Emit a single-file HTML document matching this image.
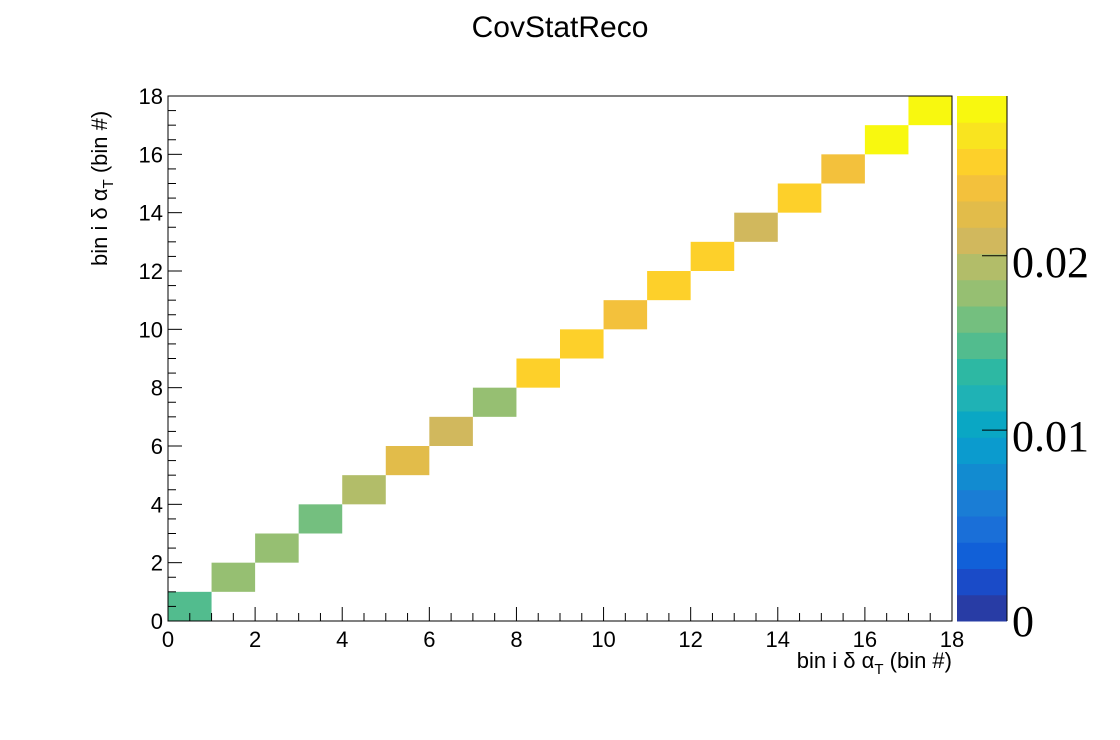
<!DOCTYPE html>
<html><head><meta charset="utf-8"><style>
body{margin:0;background:#fff;}
svg{display:block;font-family:"Liberation Sans",sans-serif;}
</style></head><body>
<svg id="c" width="1120" height="740" xmlns="http://www.w3.org/2000/svg">
<rect width="1120" height="740" fill="#fff"/>
<text x="560" y="37" font-size="30" text-anchor="middle">CovStatReco</text>
<g id="cells"></g>
<rect x="168" y="96" width="784" height="525" fill="none" stroke="#000" stroke-width="1"/>
<g id="axes"></g>
<text x="952" y="668" font-size="22" text-anchor="end">bin i δ α<tspan font-size="15" dy="6">T</tspan><tspan dy="-6"> (bin #)</tspan></text>
<text transform="translate(107,266) rotate(-90)" font-size="22" text-anchor="start">bin i δ α<tspan font-size="15" dy="6">T</tspan><tspan dy="-6"> (bin #)</tspan></text>
<g id="cbar"></g>
</svg>
<script>
const binIndex=[0,1,2,3,4,5,6,7,8,9,10,11,12,13,14,15,16,17];
const diagValues=[0.01486,0.01787,0.01787,0.01637,0.01938,0.02239,0.02088,0.01787,0.0254,0.0254,0.02389,0.0254,0.0254,0.02088,0.0254,0.02389,0.02841,0.02841];
const xTicks=[0,2,4,6,8,10,12,14,16,18];
const yTicks=[0,2,4,6,8,10,12,14,16,18];
const zTicks=[0,0.01,0.02];
const zTickLabels=["0","0.01","0.02"];
const palette=["#283ca5","#1a4bc8","#1160d8","#1a6fd8","#1a7dd5","#128bd0","#0b9bce","#0aa7c4","#1fb2b5","#2db8a3","#52bc8e","#74bf7f","#96bf72","#b2bd69","#d1b85d","#e2bc4a","#f3c13c","#fdd02a","#f9e41f","#f8f80f"];
const zMin=-0.00094, zMax=0.02916;
const NS="http://www.w3.org/2000/svg";
const X0=168,X1=952,Y0=621,Y1=96;
const sx=v=>X0+(X1-X0)*v/18, sy=v=>Y0-(Y0-Y1)*v/18;
const CB0=957,CB1=1007;
const sz=v=>Y0-(Y0-Y1)*(v-zMin)/(zMax-zMin);
function mk(t,a,p){const e=document.createElementNS(NS,t);for(const k in a)e.setAttribute(k,a[k]);p.appendChild(e);return e;}
function col(v){let i=Math.floor((v-zMin)/(zMax-zMin)*palette.length);i=Math.max(0,Math.min(palette.length-1,i));return palette[i];}
const cells=document.getElementById('cells');
binIndex.forEach((b,i)=>{
 const r=mk('rect',{x:sx(b),y:sy(b+1),width:sx(b+1)-sx(b),height:sy(b)-sy(b+1),fill:col(diagValues[i])},cells);
 
 
});
const ax=document.getElementById('axes');
for(let v=0;v<=18;v+=0.5){
 const maj=v%2===0, L=maj?14:8;
 mk('line',{x1:sx(v),x2:sx(v),y1:Y0,y2:Y0-L,stroke:'#000'},ax);
 mk('line',{x1:X0,x2:X0+L,y1:sy(v),y2:sy(v),stroke:'#000'},ax);
}
xTicks.forEach(t=>{const e=mk('text',{x:sx(t),y:Y0+26,'font-size':22,'text-anchor':'middle'},ax);e.textContent=t;
 
 });
yTicks.forEach(t=>{const e=mk('text',{x:X0-5,y:sy(t)+8,'font-size':22,'text-anchor':'end'},ax);e.textContent=t;
 
 });
const cb=document.getElementById('cbar');
palette.forEach((c,i)=>{
 const v0=zMin+(zMax-zMin)*i/palette.length, v1=zMin+(zMax-zMin)*(i+1)/palette.length;
 const r=mk('rect',{x:CB0,y:sz(v1),width:CB1-CB0,height:sz(v0)-sz(v1)+0.5,fill:c},cb);
 
 
});
mk('line',{x1:CB1,x2:CB1,y1:Y1,y2:Y0,stroke:'#000'},cb);
zTicks.forEach((t,i)=>{
 const y=i===0?Y0:sz(t);
 if(i>0)mk('line',{x1:CB1-25,x2:CB1,y1:y,y2:y,stroke:'#000'},cb);
 const e=mk('text',{x:CB1+5,y:y+(i===0?15:21),'font-size':44,'font-family':'Liberation Serif, serif'},cb);
 e.textContent=zTickLabels[i];
 
 
});
</script>
</body></html>
